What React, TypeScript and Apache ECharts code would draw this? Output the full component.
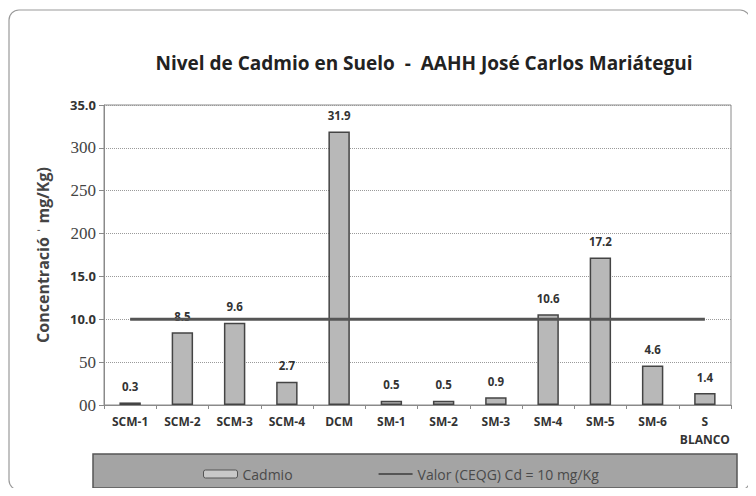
import React, { useEffect, useRef } from "react";
import * as echarts from "echarts";

const categories = ["SCM-1", "SCM-2", "SCM-3", "SCM-4", "DCM", "SM-1", "SM-2", "SM-3", "SM-4", "SM-5", "SM-6", "S\nBLANCO"];
const cadmio = [0.3, 8.5, 9.6, 2.7, 31.9, 0.5, 0.5, 0.9, 10.6, 17.2, 4.6, 1.4];
const limite = [10, 10, 10, 10, 10, 10, 10, 10, 10, 10, 10, 10];
const tickLabels: Record<number, string> = { 0: "00", 5: "50", 10: "10.0", 15: "15.0", 20: "200", 25: "250", 30: "300", 35: "35.0" };
const sansTicks = [10, 15, 35];

export default function App() {
  const ref = useRef<HTMLDivElement>(null);
  useEffect(() => {
    const chart = echarts.init(ref.current!, null, { renderer: "svg" });
    chart.setOption({
      animation: false,
      backgroundColor: "#ffffff",
      title: {
        text: "Nivel de Cadmio en Suelo  -  AAHH José Carlos Mariátegui",
        left: 419,
        textAlign: "center",
        top: 48,
        textStyle: { fontFamily: "Open Sans", fontWeight: "bold", fontSize: 19, color: "#222" },
      },
      graphic: [
        {
          type: "rect",
          shape: { x: 9, y: 10, width: 741, height: 480, r: 10 },
          style: { fill: "none", stroke: "#9a9a9a", lineWidth: 1.2 },
          z: -1,
        },
        {
          type: "rect",
          shape: { x: 93, y: 454, width: 644, height: 34 },
          style: { fill: "#a4a4a4", stroke: "#555", lineWidth: 1.5 },
          z: -1,
        },
      ],
      legend: {
        left: 198,
        top: 462,
        itemWidth: 34,
        itemHeight: 8,
        itemGap: 86,
        textStyle: { fontFamily: "Open Sans", fontSize: 14, color: "#4a4a4a" },
        data: [
          { name: "Cadmio", itemStyle: { color: "#c8c8c8", borderColor: "#555", borderWidth: 1 } },
          { name: "Valor (CEQG) Cd = 10 mg/Kg", icon: "path://M0,0 L34,0 L34,2 L0,2 Z", itemStyle: { color: "#555" } },
        ],
      },
      grid: { left: 104, right: 25, top: 105, bottom: 91, show: true, borderColor: "#8a8a8a", borderWidth: 1 },
      xAxis: {
        type: "category",
        data: categories,
        axisLine: { lineStyle: { color: "#8a8a8a", width: 1 } },
        axisTick: { show: true, length: 4, lineStyle: { color: "#8a8a8a" } },
        axisLabel: { interval: 0, fontFamily: "Open Sans", fontWeight: "bold", fontSize: 12, color: "#333", margin: 7, lineHeight: 18 },
      },
      yAxis: {
        type: "value",
        min: 0,
        max: 35,
        interval: 5,
        name: "Concentració ˈ mg/Kg)",
        nameLocation: "middle",
        nameGap: 53,
        nameTextStyle: { fontFamily: "Open Sans", fontWeight: "bold", fontSize: 16, color: "#444" },
        axisLine: { show: true, lineStyle: { color: "#8a8a8a" } },
        axisTick: { show: true, length: 5, lineStyle: { color: "#8a8a8a" } },
        splitLine: { lineStyle: { color: "#9a9a9a", type: "dotted", width: 1 } },
        axisLabel: {
          margin: 8,
          formatter: (v: number) => (sansTicks.includes(v) ? `{s|${tickLabels[v]}}` : `{r|${tickLabels[v]}}`),
          rich: {
            s: { fontFamily: "Open Sans", fontWeight: "bold", fontSize: 13, color: "#333" },
            r: { fontFamily: "Liberation Serif", fontSize: 17, color: "#444" },
          },
        },
      },
      series: [
        {
          name: "Cadmio",
          type: "bar",
          data: cadmio,
          barWidth: "41%",
          itemStyle: { color: "#b8b8b8", borderColor: "#444", borderWidth: 1.5 },
          label: {
            show: true,
            position: "top",
            distance: 10,
            fontFamily: "Open Sans",
            fontWeight: "bold",
            fontSize: 11.5,
            color: "#333",
          },
          z: 2,
        },
        {
          name: "Valor (CEQG) Cd = 10 mg/Kg",
          type: "line",
          data: limite,
          symbol: "none",
          lineStyle: { color: "#555", width: 3 },
          itemStyle: { color: "#555" },
          z: 3,
        },
      ],
    });
    return () => chart.dispose();
  }, []);
  return <div ref={ref} style={{ width: 756, height: 496, margin: -8 }} />;
}
